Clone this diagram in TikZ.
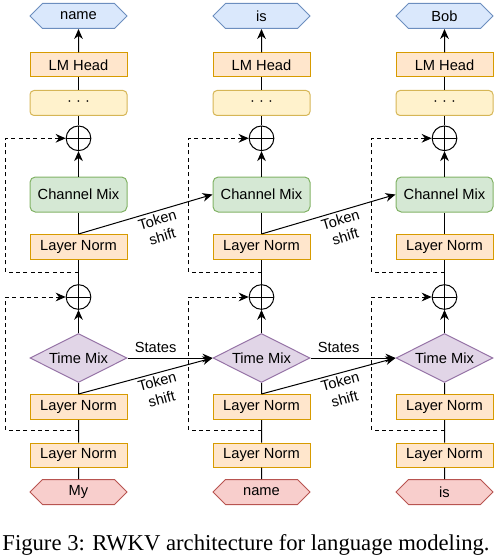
\documentclass[tikz,border=0pt]{standalone}
\usepackage{fontspec}
\setmainfont{Liberation Sans}
\newfontfamily\capfont{Liberation Serif}
\usepackage{tikz}
\usetikzlibrary{arrows.meta,shapes.geometric,shapes.symbols}

\definecolor{normfill}{HTML}{FFE6CC}\definecolor{normline}{HTML}{D79B00}
\definecolor{dotsfill}{HTML}{FFF2CC}\definecolor{dotsline}{HTML}{D6B656}
\definecolor{cmixfill}{HTML}{D5E8D4}\definecolor{cmixline}{HTML}{82B366}
\definecolor{tmixfill}{HTML}{E1D5E7}\definecolor{tmixline}{HTML}{9673A6}
\definecolor{outfill}{HTML}{DAE8FC}\definecolor{outline}{HTML}{6C8EBF}
\definecolor{infill}{HTML}{F8CECC}\definecolor{inline}{HTML}{B85450}

\begin{document}
\begin{tikzpicture}[x=0.75pt,y=-0.75pt,font=\fontsize{11}{12.5}\selectfont,line width=0.75pt,
  >={Stealth[length=7.5pt,width=6.5pt]},
  box/.style={draw,minimum width=72.75pt,minimum height=18.75pt,inner sep=0pt},
  norm/.style={box,draw=normline,fill=normfill},
  dotsbox/.style={box,draw=dotsline,fill=dotsfill,rounded corners=3pt},
  cmixbox/.style={box,draw=cmixline,fill=cmixfill,rounded corners=4pt,minimum height=26.25pt},
  tmixbox/.style={diamond,aspect=2,draw=tmixline,fill=tmixfill,minimum width=72.75pt,minimum height=36.75pt,inner sep=0pt},
  token/.style={signal,signal to=west and east,draw,minimum width=72.75pt,minimum height=18.75pt,inner sep=0pt},
  addop/.style={circle,draw,minimum size=18.5pt,inner sep=0pt,
    path picture={\draw (path picture bounding box.north) -- (path picture bounding box.south)
      (path picture bounding box.west) -- (path picture bounding box.east);}},
  res/.style={dashed,dash pattern=on 3pt off 2.5pt},
  shiftlbl/.style={sloped,below,align=center,pos=0.57,inner sep=2pt,font=\fontsize{11}{13}\selectfont}]
\useasboundingbox (0,0) rectangle (496,556);

\foreach \i/\cx/\tin/\tout in {1/78.5/My/name,2/261.5/name/is,3/444.5/is/Bob}
{
    \node[token,draw=outline,fill=outfill] (out\i) at (\cx,16) {\tout};
    \node[norm,minimum height=18pt] (head\i) at (\cx,65) {LM Head};
    \node[dotsbox] (dots\i) at (\cx,103) {· · ·};
    \node[addop] (addb\i) at (\cx,138.3) {};
    \node[cmixbox] (cmix\i) at (\cx,194.5) {Channel Mix};
    \node[norm] (lnb\i) at (\cx,247) {Layer Norm};
    \coordinate (jb\i) at (\cx,272);
    \node[addop] (adda\i) at (\cx,297) {};
    \node[tmixbox] (tmix\i) at (\cx,358) {Time Mix};
    \node[norm] (lna\i) at (\cx,407) {Layer Norm};
    \coordinate (ja\i) at (\cx,430);
    \node[norm,minimum height=18pt] (ln\i) at (\cx,455) {Layer Norm};
    \node[token,draw=inline,fill=infill] (in\i) at (\cx,492) {\tin};

    \draw (in\i) -- (ln\i) -- (lna\i) -- (tmix\i);
    \draw[->] (tmix\i) -- (adda\i);
    \draw (adda\i) -- (lnb\i) -- (cmix\i);
    \draw[->] (cmix\i) -- (addb\i);
    \draw (addb\i) -- (dots\i) -- (head\i);
    \draw[->] (head\i) -- (out\i);
    \draw[res,->] (jb\i) -- ++(-73,0) |- (addb\i);
    \draw[res,->] (ja\i) -- ++(-73,0) |- (adda\i);
}

\foreach \i/\j in {1/2,2/3}
{
    \draw[->] (lnb\i.north) -- node[shiftlbl] {Token\\shift} (cmix\j.west);
    \draw[->] (tmix\i) -- node[above,pos=0.33] {States} (tmix\j);
    \draw[->] (lna\i.north) -- node[shiftlbl] {Token\\shift} (tmix\j.west);
}

\node[font=\capfont\fontsize{17}{20}\selectfont,anchor=base] (cap) at (246,550)
    {Figure 3: RWKV architecture for language modeling.};
\end{tikzpicture}
\end{document}
